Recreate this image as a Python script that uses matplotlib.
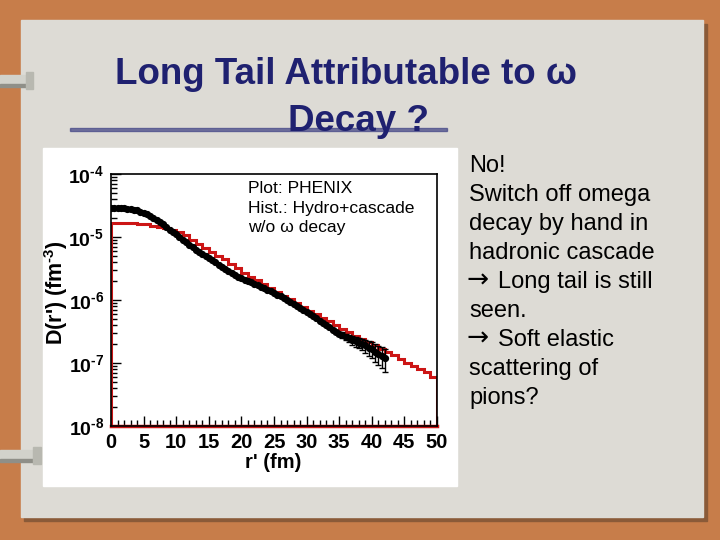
import numpy as np
import matplotlib
matplotlib.use("Agg")
import matplotlib.pyplot as plt
from matplotlib.patches import Rectangle
from matplotlib.ticker import FixedLocator, FixedFormatter, LogLocator, MultipleLocator, NullFormatter

# ---------------- data ----------------
black_r = [0.0, 0.5, 1.0, 1.5, 2.0, 2.5, 3.0, 3.5, 4.0, 4.5, 5.0, 5.5, 6.0, 6.5, 7.0, 7.5,
           8.0, 8.5, 9.0, 9.5, 10.0, 10.5, 11.0, 11.5, 12.0, 12.5, 13.0, 13.5, 14.0, 14.5,
           15.0, 15.5, 16.0, 16.5, 17.0, 17.5, 18.0, 18.5, 19.0, 19.5, 20.0, 20.5, 21.0,
           21.5, 22.0, 22.5, 23.0, 23.5, 24.0, 24.5, 25.0, 25.5, 26.0, 26.5, 27.0, 27.5,
           28.0, 28.5, 29.0, 29.5, 30.0, 30.5, 31.0, 31.5, 32.0, 32.5, 33.0, 33.5, 34.0,
           34.5, 35.0, 35.5, 36.0, 36.5, 37.0, 37.5, 38.0, 38.5, 39.0, 39.5, 40.0, 40.5,
           41.0, 41.5, 42.0]
black_D = [2.9e-5, 2.9e-5, 2.9e-5, 2.85e-5, 2.85e-5, 2.8e-5, 2.75e-5, 2.7e-5, 2.65e-5,
           2.5e-5, 2.4e-5, 2.3e-5, 2.15e-5, 2.0e-5, 1.85e-5, 1.7e-5, 1.6e-5, 1.45e-5,
           1.3e-5, 1.2e-5, 1.1e-5, 1.0e-5, 9.1e-6, 8.3e-6, 7.6e-6, 6.9e-6, 6.3e-6, 5.8e-6,
           5.4e-6, 5.0e-6, 4.7e-6, 4.3e-6, 4.0e-6, 3.6e-6, 3.3e-6, 3.1e-6, 2.9e-6, 2.7e-6,
           2.5e-6, 2.35e-6, 2.2e-6, 2.1e-6, 2.0e-6, 1.9e-6, 1.8e-6, 1.7e-6, 1.6e-6, 1.55e-6,
           1.45e-6, 1.38e-6, 1.3e-6, 1.22e-6, 1.15e-6, 1.07e-6, 1.0e-6, 9.3e-7, 8.7e-7,
           8.1e-7, 7.5e-7, 7.0e-7, 6.4e-7, 5.9e-7, 5.5e-7, 5.1e-7, 4.7e-7, 4.3e-7, 4.0e-7,
           3.7e-7, 3.4e-7, 3.1e-7, 2.9e-7, 2.8e-7, 2.6e-7, 2.5e-7, 2.3e-7, 2.2e-7, 2.1e-7,
           2.0e-7, 1.9e-7, 1.75e-7, 1.65e-7, 1.5e-7, 1.4e-7, 1.3e-7, 1.2e-7]
black_err = [0, 0, 0, 0, 0, 0, 0, 0, 0, 0, 0, 0, 0, 0, 0, 0, 0, 0, 0, 0, 0, 0, 0, 0, 0, 0,
             0, 0, 0, 0, 0, 0, 0, 0, 0, 0, 0, 0, 0, 0, 0, 0, 0, 0, 0, 0, 0, 0, 0, 0, 0, 0,
             0, 0, 0, 0, 0, 0, 0, 0, 0, 0, 0, 0, 0, 0, 1.5e-8, 1.6e-8, 1.8e-8, 2.0e-8,
             2.5e-8, 2.8e-8, 3.0e-8, 3.2e-8, 3.5e-8, 3.8e-8, 4.0e-8, 4.2e-8, 4.4e-8, 4.5e-8,
             4.7e-8, 4.8e-8, 4.8e-8, 4.8e-8, 4.8e-8]

red_edges = list(range(0, 51))
red_D = [1.66e-5, 1.66e-5, 1.66e-5, 1.66e-5, 1.62e-5, 1.58e-5, 1.51e-5, 1.45e-5, 1.38e-5,
         1.29e-5, 1.2e-5, 1.07e-5, 9.1e-6, 7.8e-6, 6.6e-6, 5.8e-6, 5.0e-6, 4.4e-6, 3.7e-6,
         3.2e-6, 2.7e-6, 2.35e-6, 2.05e-6, 1.78e-6, 1.55e-6, 1.35e-6, 1.17e-6, 1.02e-6,
         8.9e-7, 7.8e-7, 6.8e-7, 5.9e-7, 5.2e-7, 4.6e-7, 4.0e-7, 3.5e-7, 3.1e-7, 2.7e-7,
         2.4e-7, 2.15e-7, 1.9e-7, 1.66e-7, 1.48e-7, 1.32e-7, 1.17e-7, 1.0e-7, 8.9e-8,
         7.9e-8, 7.1e-8, 6.0e-8]

y_ticks = [1e-8, 1e-7, 1e-6, 1e-5, 1e-4]
y_ticklabels = ['$\\mathbf{10^{\u20108}}$', '$\\mathbf{10^{\u20107}}$', '$\\mathbf{10^{\u20106}}$',
                '$\\mathbf{10^{\u20105}}$', '$\\mathbf{10^{\u20104}}$']
x_ticks = [0, 5, 10, 15, 20, 25, 30, 35, 40, 45, 50]

title_line1 = "Long Tail Attributable to ω"
title_line2 = "Decay ?"
y_label = "D(r') (fm$^{\\mathbf{\u20103}}$)"
x_label = "r' (fm)"
note_text = "Plot: PHENIX\nHist.: Hydro+cascade\nw/o ω decay"
side_lines = [("", "No!"), ("", "Switch off omega"), ("", "decay by hand in"),
              ("", "hadronic cascade"), ("→", "Long tail is still"), ("", "seen."),
              ("→", "Soft elastic"), ("", "scattering of"), ("", "pions?")]

# ---------------- style ----------------
plt.rcParams['font.family'] = ['Liberation Sans', 'DejaVu Sans']
plt.rcParams['mathtext.fontset'] = 'custom'
plt.rcParams['mathtext.bf'] = 'Liberation Sans:bold'
plt.rcParams['mathtext.rm'] = 'Liberation Sans'

W, H = 720, 540
fig = plt.figure(figsize=(7.2, 5.4), dpi=100)
fig.patch.set_facecolor('#c77d4a')

def px_rect(x0, y0, x1, y1, z, **kw):
    r = Rectangle((x0 / W, 1 - y1 / H), (x1 - x0) / W, (y1 - y0) / H,
                  transform=fig.transFigure, zorder=z, **kw)
    fig.add_artist(r)
    return r

# page shadow + page
px_rect(24, 24, 707, 521, -10, color='#8a5a38')
px_rect(21, 20, 703, 517, -9, color='#dddbd5')
# rings on the left
px_rect(0, 75, 32, 86, -8, color='#d2d2cb')
px_rect(0, 84, 32, 87, -8, color='#8f8f88')
px_rect(26, 72, 33, 89, -7, color='#b8b8b0')
px_rect(0, 450, 40, 461, -8, color='#d2d2cb')
px_rect(0, 459, 40, 462, -8, color='#8f8f88')
px_rect(33, 447, 41, 464, -7, color='#b8b8b0')
# scribble underline under title
px_rect(70, 128, 447, 131, -6, color='#2c2f7a', alpha=0.6)
# white plot box
px_rect(43, 148, 457, 486, -5, color='white')

# titles
navy = '#1f2170'
fig.text(346 / W, 1 - 84 / H, title_line1, ha='center', va='baseline', fontsize=26.5,
         fontweight='bold', color=navy)
fig.text(358 / W, 1 - 131 / H, title_line2, ha='center', va='baseline', fontsize=26.5,
         fontweight='bold', color=navy)

for i, (arrow, txt) in enumerate(side_lines):
    yb = 1 - (172 + 29 * i) / H
    if arrow:
        fig.text(467 / W, yb, arrow, ha='left', va='baseline', fontsize=19,
                 family='DejaVu Sans', color='black')
        fig.text(498 / W, yb, txt, ha='left', va='baseline', fontsize=17, color='black')
    else:
        fig.text(469 / W, yb, txt, ha='left', va='baseline', fontsize=17, color='black')

# ---------------- axes ----------------
ax = fig.add_axes([111 / W, 1 - 426 / H, (437 - 111) / W, (426 - 174) / H])
ax.set_facecolor('white')
ax.set_yscale('log')
ax.set_xlim(0, 50)
ylo, yhi = 1e-8, 1e-4
ax.set_ylim(ylo, yhi)

ax.stairs(red_D, red_edges, color='#cc1515', linewidth=2.2, zorder=2)
ax.plot([red_edges[0], red_edges[-1]], [ylo, ylo], color='#cc1515', linewidth=2.5,
        zorder=2, clip_on=False)

br = np.array(black_r)
bd = np.array(black_D)
be = np.array(black_err)
mask = be > 0
ax.errorbar(br[mask], bd[mask], yerr=be[mask], fmt='none', ecolor='black',
            elinewidth=1.0, capsize=2, capthick=1.0, zorder=3)
ax.plot(br, bd, 'o', color='black', markersize=4.2, zorder=3)

ax.yaxis.set_major_locator(FixedLocator(y_ticks))
ax.yaxis.set_major_formatter(FixedFormatter(y_ticklabels))
ax.yaxis.set_minor_locator(LogLocator(base=10, subs=np.arange(2, 10), numticks=20))
ax.yaxis.set_minor_formatter(NullFormatter())
ax.xaxis.set_major_locator(FixedLocator(x_ticks))
ax.xaxis.set_minor_locator(MultipleLocator(1))

ax.tick_params(axis='both', which='major', direction='in', length=7, width=1,
               labelsize=14.5)
ax.tick_params(axis='y', which='major', labelsize=14)
ax.tick_params(axis='both', which='minor', direction='in', length=4, width=1)
ax.tick_params(axis='y', which='both', pad=5)
ax.tick_params(axis='x', which='both', pad=5)
for lab in ax.get_xticklabels():
    lab.set_fontweight('bold')
for sp in ax.spines.values():
    sp.set_linewidth(1.2)

fig.text(56 / W, 1 - 293 / H, y_label, rotation=90, ha='center',
         va='center', fontsize=15.5, fontweight='bold')
fig.text(273 / W, 1 - 462 / H, x_label, ha='center', va='center', fontsize=14.5,
         fontweight='bold')
fig.text(248 / W, 1 - 181 / H, note_text, ha='left', va='top', fontsize=12.6,
         linespacing=1.38, zorder=5)

fig.savefig('out.png', dpi=100, facecolor=fig.get_facecolor())
